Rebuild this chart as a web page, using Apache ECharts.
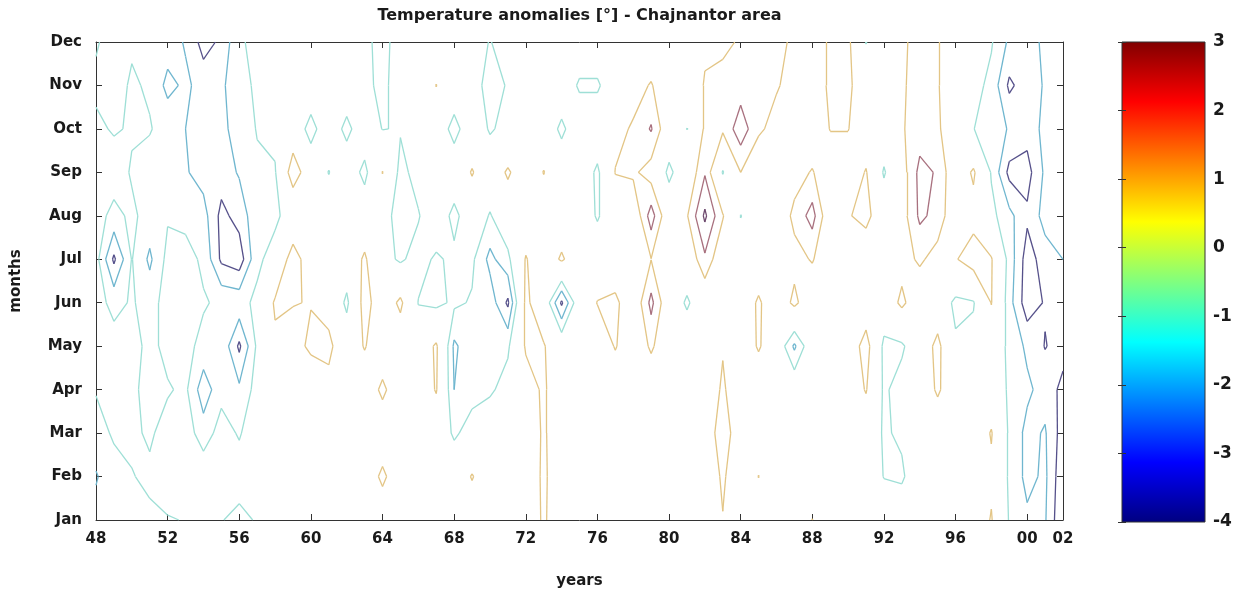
<!DOCTYPE html>
<html>
<head>
<meta charset="utf-8">
<title>Temperature anomalies - Chajnantor area</title>
<script src="https://cdn.jsdelivr.net/npm/echarts@6/dist/echarts.min.js"></script>
<style>
  html, body { margin: 0; padding: 0; background: #fff; }
  #chart { width: 1243px; height: 594px; }
</style>
</head>
<body>
<div id="chart"></div>
<script>
// years 1948..2002 on x, months Jan..Dec on y
const firstYear = 1948;
const lastYear = 2002;
const monthNames = ['Jan', 'Feb', 'Mar', 'Apr', 'May', 'Jun', 'Jul', 'Aug', 'Sep', 'Oct', 'Nov', 'Dec'];
const barTicks = [3, 2, 1, 0, -1, -2, -3, -4];

// anomaly per month, one value per year 1948..2002
const jan = [-1.6, -1.5, -1.4, -1.2, -1.05, -0.97, -0.7, -0.95, -1.3, -0.9,
  0, 0, 0, 0, 0, 0, 0, 0, 0, 0,
  0, 0, 0, 0, 0, 1.2, 0, 0, 0, 0,
  0, 0, 0, 0, 0, 0.95, 0, 0, 0, 0,
  1.03, 0, 0, 0, 0, 0, 0, 0, 0, 0,
  1.1, -1.1, -1.8, -1.9, -4.0];
const feb = [-2.1, -1.3, -1.05, -0.8, -0.6, 0, -0.3, -0.3, -0.5, -0.3,
  0, 0, 0, 0, 0, 0, 1.3, 0, 0, 0,
  0, 1.1, 0, 0, 0, 1.25, 0, 0, 0, 0,
  0, 0, 0, 0, 0, 1.2, 0, 1.03, 0, 0,
  0, 0, 0, 0, -1.05, -1.2, 0, 0, 0, 0,
  0.7, -1.2, -2.3, -1.8, -3.8];
const mar = [-1.3, -0.9, -0.8, -1.15, -0.6, -0.5, -1.5, -0.6, -1.1, -0.3,
  0, 0, 0, 0, 0, 0, 0, 0, 0, 0,
  -1.2, -0.5, 0, 0, 0, 1.2, 0, 0, 0, 0,
  0, 0, 0, 0, 0, 1.8, 0, 0, 0, 0,
  0, 0, 0, 0, -1.15, -0.8, 0, 0, 0, 0,
  1.1, -1.2, -2.3, -1.9, -3.5];
const apr = [-0.95, -0.6, -0.7, -1.5, -1.1, -0.8, -2.6, -1.3, -1.8, -0.6,
  0, 0, 0, 0.6, 0, 0, 1.3, 0, 0, 1.1,
  -2.0, -1.4, -1.2, -0.5, 0.4, 1.2, 0, 0, 0, 0,
  0, 0, 0, 0, 0, 1.2, 0, 0, 0, 0,
  0, 0, 0, 1.1, -1.2, -0.5, 0, 1.2, 0, 0,
  0, -1.2, -1.8, -2.4, -3.3];
const may = [-0.5, -0.6, -0.6, -1.3, -0.7, -0.7, -1.3, -1.2, -3.2, -0.8,
  0.7, 0.5, 1.25, 1.3, 0, 1.1, 0, 0, 0, 1.2,
  -2.2, -1.3, -1.3, -1.2, 1.15, 1.1, 0, 0, 0, 1.1,
  0, 1.2, 0, 0, 0, 0.9, 0, 1.15, 0, -2.2,
  0, 0, 0, 1.6, -1.3, -1.2, 0, 1.4, -0.8, -0.6,
  0, -1.3, -2.2, -3.05, -2.6];
const jun = [-0.6, -1.3, -0.9, -1.4, -0.6, -0.5, -0.9, -1.2, -1.3, -0.8,
  1.2, 1.05, 0.95, 0.5, -1.3, 1.6, 0, 1.3, -1.05, -1.3,
  -0.8, -1.1, -1.4, -3.2, 1.3, 0, -3.2, 0, 1.05, 1.3,
  0, 2.3, 0, -1.2, 0, 0, 0, 1.2, 0, 1.3,
  0, 0, 0, 0, 0, 1.3, 0, 0, -1.3, -1.1,
  1.05, -1.6, -3.6, -2.9, -2.3];
const jul = [-0.6, -3.2, -0.95, -2.2, -0.7, -0.6, -1.2, -3.2, -3.6, -1.2,
  -0.6, 1.8, 0, 0, 0, 1.2, -0.5, -1.2, -0.5, -1.2,
  -0.7, -0.8, -2.3, -1.3, 1.1, 0, 1.2, 0, 0, 0,
  0, 0.98, 0, 0, 1.8, 0, 0, 0, 0, 0.6,
  1.1, 0, 0, 0, 0, 0.5, 1.2, 0.5, 0.9, 1.7,
  1.1, -1.4, -3.5, -2.5, -2.0];
const aug = [-0.6, -1.3, -0.8, -1.4, -1.1, -1.3, -1.6, -3.3, -2.6, -1.3,
  -1.2, -0.5, 0, 0, 0, 0, -0.5, -1.5, -1.1, 0,
  -1.4, 0, -1.1, 0, 0, 0, 0, 0, -1.15, 0,
  0, 2.5, 0, 0.9, 3.2, 1.1, -1.05, 0, 0, 1.3,
  2.4, 0, 0.9, 1.4, 0, 0.5, 2.2, 1.7, 0, 0.5,
  -0.7, -1.7, -2.8, -1.6, -1.8];
const sep = [-0.5, -0.5, -1.1, -1.3, -1.2, -1.9, -2.4, -2.5, -1.9, -1.15,
  -1.1, 1.8, 0, -1.05, 0, -1.4, 1.05, -1.4, -0.5, 0,
  0, 1.1, 0, 1.2, 0, 1.05, 0, 0, -1.25, 1.05,
  1.2, 0.5, -1.3, 0, 1.9, -1.1, 1.0, 0, 0, 0.5,
  1.1, 0, 0, 1.1, -1.15, 0.5, 2.3, 1.9, 0, 1.2,
  -1.1, -3.3, -3.4, -1.8, -1.6];
const oct = [-0.8, -1.1, -0.9, -0.95, -1.3, -2.0, -2.1, -2.3, -1.5, -0.95,
  -0.7, 0, -1.5, 0, -1.4, 0, -1.05, -0.9, 0, 0,
  -1.5, 0, -1.15, -0.6, 0, 0, -1.3, 0, 0, 0.6,
  1.15, 2.1, 0, -1.02, 1.2, 1.2, 2.6, 1.2, 0.6, 0,
  0, 1.05, 1.05, 0, 0, 0.9, 1.5, 1.2, 0, -0.98,
  -1.4, -2.1, -2.6, -1.7, -1.6];
const nov = [-1.2, -1.3, -0.9, -1.1, -2.3, -1.8, -2.4, -2.2, -1.3, -0.85,
  -0.3, 0, 0, 0, 0, -0.5, -1.5, 0, 0, 1.03,
  0, -0.4, -1.5, -0.9, 0, 0, 0, -1.2, -1.2, 0,
  0.5, 1.1, 0, 0, 1.1, 1.3, 1.5, 1.2, 1.1, 0.6,
  0, 1.3, 1.3, 0, 0, 0.9, 1.3, 1.1, 0, -0.6,
  -1.3, -3.2, -2.5, -1.9, -1.5];
const dec = [-0.9, -1.4, -1.1, -1.2, -1.5, -2.1, -3.4, -2.8, -1.1, -0.8,
  -0.3, 0, 0, 0, 0, -0.5, -1.7, 0, 0, 0,
  0, 0, -1.1, 0, 0, 0, 0, 0, 0, 0,
  0, 0, 0, 0, 0.8, 0.8, 1.1, 1.4, 1.3, 0.8,
  0, 1.3, 1.3, -1.05, 0, 0.9, 1.2, 1.1, 0, -0.3,
  -0.9, -2.2, -2.4, -1.8, -1.3];

const levels = [-3, -2, -1, 1, 2, 3];
const levelColors = ['#55508a', '#6fb6cf', '#9edfd6', '#e3c585', '#a8707e', '#6e4a6e'];

const field = [jan, feb, mar, apr, may, jun, jul, aug, sep, oct, nov, dec];

// marching squares on the year x month grid, output in data units
function contourSegments(grid, level) {
  const segs = [];
  const nx = grid[0].length;
  for (let j = 0; j < grid.length - 1; j++) {
    for (let i = 0; i < nx - 1; i++) {
      const v = [grid[j][i], grid[j][i + 1], grid[j + 1][i + 1], grid[j + 1][i]];
      const p = [[i, j], [i + 1, j], [i + 1, j + 1], [i, j + 1]];
      const pts = [];
      for (let k = 0; k < 4; k++) {
        const a = k, b = (k + 1) % 4;
        if ((v[a] > level) !== (v[b] > level)) {
          const t = (level - v[a]) / (v[b] - v[a]);
          pts.push([firstYear + p[a][0] + t * (p[b][0] - p[a][0]), 1 + p[a][1] + t * (p[b][1] - p[a][1])]);
        }
      }
      if (pts.length === 2) {
        segs.push([pts[0], pts[1]]);
      } else if (pts.length === 4) {
        const c = (v[0] + v[1] + v[2] + v[3]) / 4;
        if ((c > level) === (v[0] > level)) {
          segs.push([pts[0], pts[1]], [pts[2], pts[3]]);
        } else {
          segs.push([pts[3], pts[0]], [pts[1], pts[2]]);
        }
      }
    }
  }
  return segs;
}

const font = "'DejaVu Sans', 'Liberation Sans', Arial, sans-serif";
const ink = '#1a1a1a';

const contourSeries = levels.map((lv, idx) => ({
  type: 'lines',
  name: String(lv),
  coordinateSystem: 'cartesian2d',
  xAxisIndex: 0,
  yAxisIndex: 0,
  polyline: false,
  silent: true,
  lineStyle: { color: levelColors[idx], width: 1.3, opacity: 1 },
  data: contourSegments(field, lv).map(s => ({ coords: s }))
}));

const chart = echarts.init(document.getElementById('chart'));
chart.setOption({
  animation: false,
  backgroundColor: '#fff',
  textStyle: { fontFamily: font },
  grid: [
    { left: 96, top: 42, width: 967, height: 480 },
    { left: 1122, top: 42, width: 83, height: 480 }
  ],
  xAxis: [
    {
      type: 'value', gridIndex: 0, min: firstYear, max: lastYear, interval: 4,
      name: 'years', nameLocation: 'middle', nameGap: 54,
      nameTextStyle: { fontSize: 15, color: ink, fontFamily: font, fontWeight: 'bold' },
      axisLine: { lineStyle: { color: '#333' } },
      axisTick: { inside: true, length: 6, lineStyle: { color: '#333' } },
      axisLabel: {
        fontSize: 15, color: ink, margin: 12, fontFamily: font, fontWeight: 'bold',
        formatter: v => String(v % 100).padStart(2, '0')
      },
      splitLine: { show: false }
    },
    {
      type: 'value', gridIndex: 0, min: firstYear, max: lastYear, interval: 4, position: 'top',
      name: 'Temperature anomalies [\u00b0] - Chajnantor area', nameLocation: 'middle', nameGap: 18,
      nameTextStyle: { fontSize: 16, color: ink, fontFamily: font, fontWeight: 'bold' },
      axisLine: { lineStyle: { color: '#333' } },
      axisTick: { inside: true, length: 6, lineStyle: { color: '#333' } },
      axisLabel: { show: false },
      splitLine: { show: false }
    },
    { type: 'value', gridIndex: 1, min: 0, max: 1, show: false }
  ],
  yAxis: [
    {
      type: 'value', gridIndex: 0, min: 1, max: 12, interval: 1,
      name: 'months', nameLocation: 'middle', nameGap: 72, nameRotate: 90,
      nameTextStyle: { fontSize: 15, color: ink, fontFamily: font, fontWeight: 'bold' },
      axisLine: { show: true, lineStyle: { color: '#333' } },
      axisTick: { show: true, inside: true, length: 6, lineStyle: { color: '#333' } },
      axisLabel: { fontSize: 15, color: ink, margin: 14, fontFamily: font, fontWeight: 'bold', formatter: v => monthNames[v - 1] },
      splitLine: { show: false }
    },
    {
      type: 'value', gridIndex: 0, min: 1, max: 12, interval: 1, position: 'right',
      axisLine: { show: true, lineStyle: { color: '#333' } },
      axisTick: { show: true, inside: true, length: 6, lineStyle: { color: '#333' } },
      axisLabel: { show: false },
      splitLine: { show: false }
    },
    {
      type: 'value', gridIndex: 1, z: 10, min: barTicks[barTicks.length - 1], max: barTicks[0], interval: 1, position: 'right',
      axisLine: { show: false },
      axisTick: { show: true, inside: true, length: 4, lineStyle: { color: '#333' } },
      axisLabel: { fontSize: 17, color: ink, margin: 8, fontFamily: font, fontWeight: 'bold' },
      splitLine: { show: false }
    },
    {
      type: 'value', gridIndex: 1, z: 10, min: barTicks[barTicks.length - 1], max: barTicks[0], interval: 1, position: 'left',
      axisLine: { show: false },
      axisTick: { show: true, inside: true, length: 4, lineStyle: { color: '#333' } },
      axisLabel: { show: false },
      splitLine: { show: false }
    }
  ],
  series: contourSeries.concat([{
    type: 'custom',
    xAxisIndex: 2,
    yAxisIndex: 2,
    silent: true,
    z: 0,
    data: [[0, barTicks[barTicks.length - 1], 1, barTicks[0]]],
    renderItem: (params, api) => {
      const p0 = api.coord([api.value(0), api.value(3)]);
      const p1 = api.coord([api.value(2), api.value(1)]);
      return {
        type: 'rect',
        shape: { x: p0[0], y: p0[1], width: p1[0] - p0[0], height: p1[1] - p0[1] },
        style: {
          stroke: '#333',
          lineWidth: 1,
          fill: new echarts.graphic.LinearGradient(0, 0, 0, 1, [
            { offset: 0, color: '#800000' },
            { offset: 0.125, color: '#ff0000' },
            { offset: 0.375, color: '#ffff00' },
            { offset: 0.625, color: '#00ffff' },
            { offset: 0.875, color: '#0000ff' },
            { offset: 1, color: '#000080' }
          ])
        }
      };
    }
  }])
});
</script>
</body>
</html>
